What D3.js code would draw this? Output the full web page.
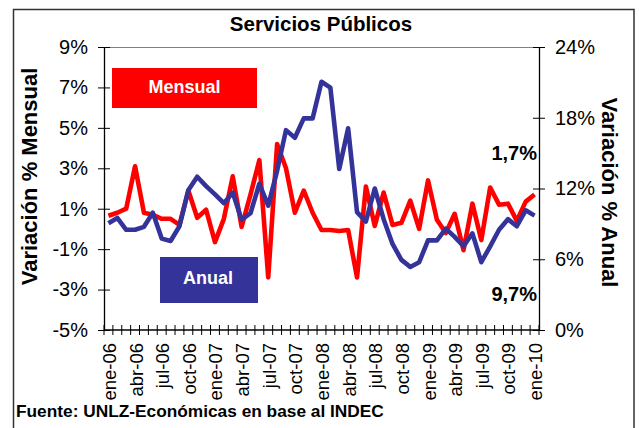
<!DOCTYPE html>
<html>
<head>
<meta charset="utf-8">
<script src="https://cdn.jsdelivr.net/npm/d3@7"></script>
<style>
  html, body { margin: 0; padding: 0; background: #fff; }
  svg { display: block; font-family: "Liberation Sans", Arial, sans-serif; }
</style>
</head>
<body>
<svg id="chart" width="639" height="428"></svg>
<script>
// ---- Data ----
const months = ["ene","feb","mar","abr","may","jun","jul","ago","sep","oct","nov","dic"];
const categories = [];
for (let yy = 6; yy <= 10; yy++) {
  for (let m = 0; m < 12; m++) {
    if (yy === 10 && m > 0) break;
    categories.push(months[m] + "-" + String(yy).padStart(2, "0"));
  }
}
// Variación % Mensual (left axis)
const mensual = [0.65, 0.8, 1.0, 3.1, 0.8, 0.7, 0.5, 0.5, 0.2, 1.9,
                 0.55, 0.95, -0.65, 0.5, 2.6, 0.1, 1.7, 3.4, -2.4, 4.2,
                 3.0, 0.8, 1.9, 0.8, -0.05, -0.05, -0.1, -0.05, -2.4, 2.1,
                 0.15, 1.8, 0.2, 0.3, 1.4, 0.0, 2.4, 0.45, -0.2, 0.75,
                 -1.05, 1.25, -0.55, 2.05, 1.2, 1.25, 0.4, 1.35, 1.7];
// Variación % Anual (right axis)
const anual = [9.05, 9.5, 8.5, 8.5, 8.75, 9.95, 7.75, 7.55, 8.8, 11.85,
               13.0, 12.2, 11.5, 10.75, 11.65, 9.35, 9.9, 12.4, 10.55, 13.5,
               16.95, 16.3, 17.95, 17.95, 21.05, 20.55, 13.65, 17.1, 10.0, 9.2,
               12.0, 9.4, 7.3, 5.95, 5.35, 5.75, 7.6, 7.6, 8.6, 7.9,
               7.1, 8.2, 5.75, 7.1, 8.5, 9.4, 8.8, 10.15, 9.7];
const leftTicks = [-5, -3, -1, 1, 3, 5, 7, 9];
const rightTicks = [0, 6, 12, 18, 24];
const labelEvery = 3;
const title = "Servicios Públicos";
const leftTitle = "Variación % Mensual";
const rightTitle = "Variación % Anual";
const source = "Fuente: UNLZ-Económicas en base al INDEC";
const lastMensualLabel = "1,7%";
const lastAnualLabel = "9,7%";

// ---- Layout ----
const W = 639, H = 428;
const plot = { left: 104, right: 539, top: 47, bottom: 330 };
const RED = "#FF0000", BLUE = "#333399";

const svg = d3.select("#chart");

// outer border
svg.append("rect")
  .attr("x", 13.5).attr("y", 9.5)
  .attr("width", 620.5).attr("height", 440)
  .attr("fill", "none").attr("stroke", "#333").attr("stroke-width", 1.5);

const x = d3.scaleBand().domain(categories).range([plot.left, plot.right]).padding(0);
const yL = d3.scaleLinear().domain([-5, 9]).range([plot.bottom, plot.top]);
const yR = d3.scaleLinear().domain([0, 24]).range([plot.bottom, plot.top]);
const cx = d => x(d) + x.bandwidth() / 2;

// top border of plot area
svg.append("line")
  .attr("x1", plot.left).attr("x2", plot.right)
  .attr("y1", plot.top + 0.5).attr("y2", plot.top + 0.5)
  .attr("stroke", "#808080").attr("stroke-width", 1.2);

// Left axis
const gL = svg.append("g").attr("transform", `translate(${plot.left},0)`)
  .call(d3.axisLeft(yL).tickValues(leftTicks).tickFormat(d => d + "%")
        .tickSizeInner(6).tickSizeOuter(0).tickPadding(10));
gL.selectAll(".tick line").attr("x1", -6).attr("x2", 6).attr("stroke", "#000");
gL.selectAll(".tick text").attr("font-size", 20).attr("fill", "#000");
gL.select(".domain").attr("stroke", "#000").attr("stroke-width", 1.3);

// Right axis
const gR = svg.append("g").attr("transform", `translate(${plot.right},0)`)
  .call(d3.axisRight(yR).tickValues(rightTicks).tickFormat(d => d + "%")
        .tickSizeInner(6).tickSizeOuter(0).tickPadding(10));
gR.selectAll(".tick line").attr("x1", -6).attr("x2", 6).attr("stroke", "#000");
gR.selectAll(".tick text").attr("font-size", 20).attr("fill", "#000");
gR.select(".domain").attr("stroke", "#000").attr("stroke-width", 1.3);

// Bottom axis: line, tick marks at category boundaries, rotated labels
svg.append("line")
  .attr("x1", plot.left).attr("x2", plot.right)
  .attr("y1", plot.bottom).attr("y2", plot.bottom)
  .attr("stroke", "#000").attr("stroke-width", 1.3);
const boundaries = categories.map(c => x(c)).concat([plot.right]);
svg.append("g").selectAll("line").data(boundaries).join("line")
  .attr("x1", d => d).attr("x2", d => d)
  .attr("y1", plot.bottom - 5).attr("y2", plot.bottom + 5)
  .attr("stroke", "#000").attr("stroke-width", 1);

const gB = svg.append("g").attr("transform", `translate(0,${plot.bottom})`)
  .call(d3.axisBottom(x).tickValues(categories.filter((c, i) => i % labelEvery === 0))
        .tickSize(0));
gB.select(".domain").remove();
gB.selectAll(".tick text")
  .attr("transform", "rotate(-90)")
  .attr("x", -13).attr("y", 1).attr("dy", "0.35em")
  .attr("text-anchor", "end")
  .attr("font-size", 18.5).attr("fill", "#000");

// Lines
const lineL = d3.line().x((d, i) => cx(categories[i])).y(d => yL(d));
const lineR = d3.line().x((d, i) => cx(categories[i])).y(d => yR(d));
svg.append("path").datum(mensual).attr("d", lineL)
  .attr("fill", "none").attr("stroke", RED).attr("stroke-width", 4.6)
  .attr("stroke-linejoin", "round");
svg.append("path").datum(anual).attr("d", lineR)
  .attr("fill", "none").attr("stroke", BLUE).attr("stroke-width", 4.6)
  .attr("stroke-linejoin", "round");

// Legend boxes
svg.append("rect").attr("x", 112).attr("y", 68).attr("width", 145).attr("height", 40).attr("fill", RED);
svg.append("text").attr("x", 184.5).attr("y", 92.5).attr("text-anchor", "middle")
  .attr("font-size", 18).attr("font-weight", "bold").attr("fill", "#fff").text("Mensual");
svg.append("rect").attr("x", 160).attr("y", 257).attr("width", 98).attr("height", 46).attr("fill", BLUE);
svg.append("text").attr("x", 208).attr("y", 283.5).attr("text-anchor", "middle")
  .attr("font-size", 18).attr("font-weight", "bold").attr("fill", "#fff").text("Anual");

// Title
svg.append("text").attr("x", 321).attr("y", 31).attr("text-anchor", "middle")
  .attr("font-size", 20.5).attr("font-weight", "bold").attr("fill", "#000").text(title);

// Axis titles
svg.append("text").attr("transform", "translate(37,176.5) rotate(-90)")
  .attr("text-anchor", "middle").attr("font-size", 22).attr("font-weight", "bold")
  .attr("fill", "#000").text(leftTitle);
svg.append("text").attr("transform", "translate(602,192.5) rotate(90)")
  .attr("text-anchor", "middle").attr("font-size", 22).attr("font-weight", "bold")
  .attr("fill", "#000").text(rightTitle);

// End-value annotations
svg.append("text").attr("x", 537).attr("y", 160).attr("text-anchor", "end")
  .attr("font-size", 20).attr("font-weight", "bold").attr("fill", "#000").text(lastMensualLabel);
svg.append("text").attr("x", 537).attr("y", 301).attr("text-anchor", "end")
  .attr("font-size", 20).attr("font-weight", "bold").attr("fill", "#000").text(lastAnualLabel);

// Source
svg.append("text").attr("x", 16).attr("y", 417)
  .attr("font-size", 17.3).attr("font-weight", "bold").attr("fill", "#000").text(source);
</script>
</body>
</html>
